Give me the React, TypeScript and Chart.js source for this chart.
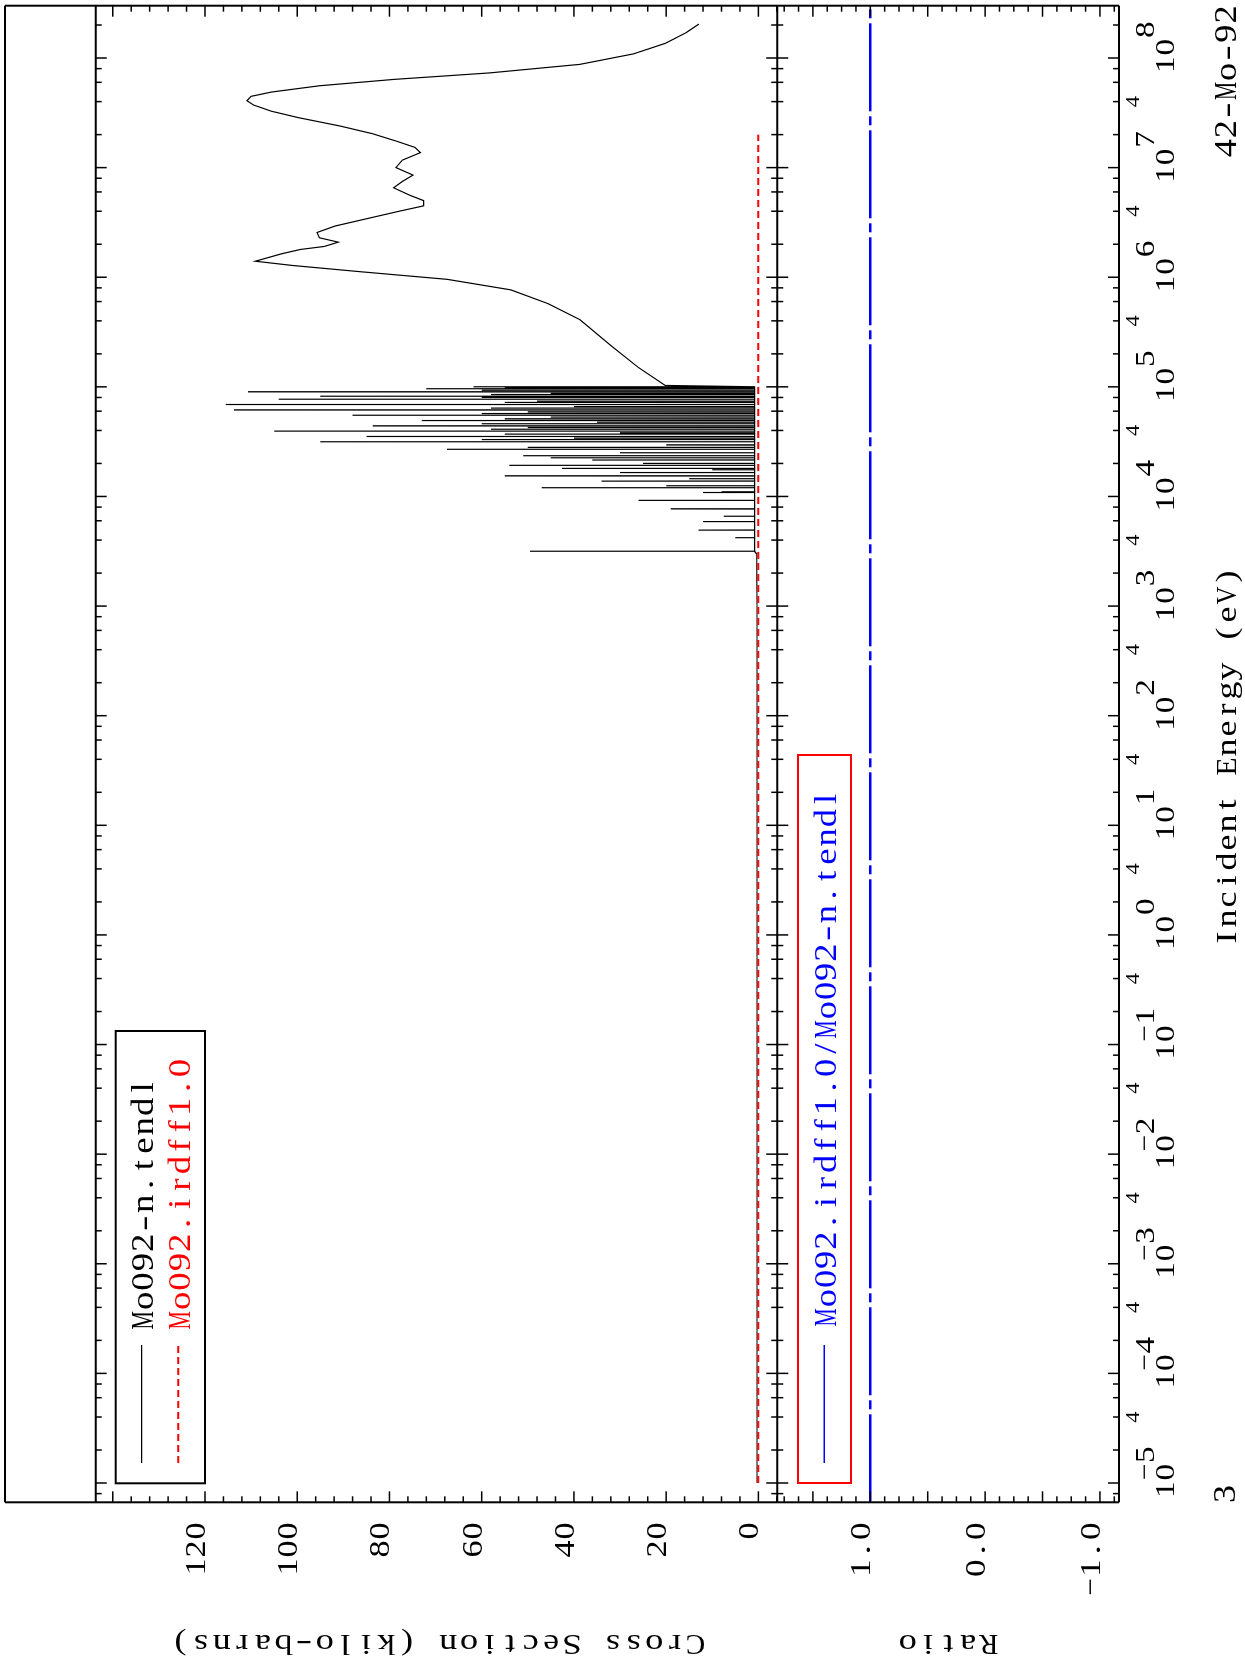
import React, { useEffect, useRef } from "react";
import { Chart, registerables } from "chart.js";

Chart.register(...registerables);

// ---------------- data ----------------
const energyMin = 1e-5 / 1.5;
const energyMax = 3e8;
const xsMin = -4.1;
const xsMax = 143.7;
const ratioMin = -1.166;
const ratioMax = 1.81;

const decadeExponents = [-5, -4, -3, -2, -1, 0, 1, 2, 3, 4, 5, 6, 7, 8];
const xsTickLabels = [0, 20, 40, 60, 80, 100, 120];
const ratioTickLabels = [1, 0, -1];
const ratioTickText = ["1.0", "0.0", "\u22121.0"];

const legendMain = ["Mo092-n.tendl", "Mo092.irdff1.0"];
const legendRatio = ["Mo092.irdff1.0/Mo092-n.tendl"];

// TENDL below the resonance region (kilo-barns)
const tendlLowE = [1e-5, 1e-3, 1e-1, 1e1, 1e3, 3.0e3];
const tendlLowXs = [0.3, 0.3, 0.3, 0.3, 0.3, 0.4];

// resolved resonance spikes: energy (eV) and peak (kilo-barns)
const resonanceE = [
  3.16e3, 4.2e3, 4.93e3, 5.89e3, 6.59e3, 7.7e3, 9.2e3, 1.08e4, 1.1e4, 1.2e4,
  1.25e4, 1.38e4, 1.45e4, 1.54e4, 1.65e4, 1.75e4, 1.8e4, 1.92e4, 2.0e4, 2.15e4,
  2.25e4, 2.35e4, 2.5e4, 2.69e4, 2.8e4, 2.95e4, 3.15e4, 3.3e4, 3.4e4, 3.52e4,
  3.7e4, 3.8e4, 3.94e4, 4.1e4, 4.25e4, 4.4e4, 4.6e4, 4.75e4, 4.92e4, 5.1e4,
  5.3e4, 5.5e4, 5.7e4, 5.9e4, 6.15e4, 6.4e4, 6.6e4, 6.89e4, 7.2e4, 7.4e4,
  7.7e4, 8.0e4, 8.2e4, 8.5e4, 8.7e4, 9.0e4, 9.3e4, 9.6e4, 9.8e4, 1.0e5,
];
const resonancePeak = [
  49.5, 5, 13, 12, 7.5, 19, 26, 12, 8, 47,
  20, 34, 15, 55, 30, 10, 42.6, 54, 25, 36,
  45, 51, 30, 67.5, 50, 20, 95, 60, 40, 85,
  55, 30, 105, 58, 50, 83.6, 60, 35, 73, 55,
  45, 88, 60, 50, 113.7, 58, 40, 115.5, 55, 48,
  104, 60, 95, 58, 45, 110.7, 60, 72, 55, 61.8,
];
const resonanceBaseline = 0.8;

// smooth fast-neutron region
const smoothE = [
  1.03e5, 1.5e5, 2.35e5, 4.1e5, 5.74e5, 7.67e5, 9.57e5, 1.12e6, 1.28e6, 1.4e6,
  1.64e6, 1.79e6, 1.91e6, 2.09e6, 2.29e6, 2.56e6, 2.93e6, 3.43e6, 4.0e6, 4.48e6,
  5.0e6, 5.6e6, 6.55e6, 7.48e6, 8.55e6, 1.0e7, 1.17e7, 1.37e7, 1.53e7, 1.75e7,
  2.04e7, 2.39e7, 2.86e7, 3.27e7, 3.73e7, 4.08e7, 4.47e7, 4.89e7, 5.58e7, 6.38e7,
  7.31e7, 8.75e7, 1.09e8, 1.36e8, 1.71e8, 2.04e8,
];
const smoothXs = [
  20.2, 26.0, 31.8, 38.7, 45.6, 53.7, 67.5, 86.0, 101.0, 109.1,
  103.3, 99.4, 94.1, 91.1, 95.2, 95.7, 91.8, 84.8, 77.9, 72.6,
  72.6, 75.6, 79.1, 77.2, 74.9, 78.6, 77.2, 73.3, 74.5, 78.6,
  83.7, 90.6, 99.8, 105.6, 109.5, 110.9, 110.0, 105.6, 95.2, 79.0,
  58.3, 38.7, 27.1, 20.2, 15.6, 12.9,
];

const irdffE = [1e-5, 2e7];
const irdffXs = [0.05, 0.05];

const ratioE = [energyMin, energyMax];
const ratioValues = [1.0, 1.0];

// ---------------- layout (landscape frame, rotated on page) ----------------
const W = 1669;
const H = 1245;
const L = 166.7;
const R = 1663.3;
const OUTER_T = 5;
const MAIN_T = 95.7;
const SEP = 777.3;
const RATIO_B = 1119;
const SERIF = "'Liberation Serif', 'DejaVu Serif', serif";

function buildTendl() {
  const pts: { x: number; y: number }[] = [];
  tendlLowE.forEach((e, i) => pts.push({ x: e, y: tendlLowXs[i] }));
  const order = resonanceE.map((_, i) => i).sort((a, b) => resonanceE[a] - resonanceE[b]);
  order.forEach((i) => {
    const e = resonanceE[i];
    pts.push({ x: e / 1.003, y: resonanceBaseline });
    pts.push({ x: e, y: resonancePeak[i] });
    pts.push({ x: e * 1.003, y: resonanceBaseline });
  });
  smoothE.forEach((e, i) => pts.push({ x: e, y: smoothXs[i] }));
  return pts;
}

function energyTicks() {
  const out: { v: number; major: boolean }[] = [];
  for (let e = -6; e <= 8; e++) {
    for (const m of [1, 2, 4, 6, 8]) {
      const v = m * Math.pow(10, e);
      if (v >= energyMin && v <= energyMax) out.push({ v, major: m === 1 });
    }
  }
  return out;
}

function seg(ctx: CanvasRenderingContext2D, x1: number, y1: number, x2: number, y2: number) {
  ctx.beginPath();
  ctx.moveTo(x1, y1);
  ctx.lineTo(x2, y2);
  ctx.stroke();
}

// fixed-pitch text drawn with a serif face, like the plotting package's font
function drawMono(
  ctx: CanvasRenderingContext2D,
  text: string,
  x: number,
  y: number,
  align: "left" | "center" | "right",
  size: number,
  pitch: number,
  sx = 1.2
) {
  const total = text.length * pitch;
  const start = align === "left" ? x : align === "center" ? x - total / 2 : x - total;
  ctx.font = `${size}px ${SERIF}`;
  ctx.textAlign = "center";
  ctx.textBaseline = "alphabetic";
  for (let i = 0; i < text.length; i++) {
    const c = text[i];
    if (c === " ") continue;
    const w = ctx.measureText(c).width;
    let s = sx;
    if (c === "-") s = (pitch * 0.8) / Math.max(w, 1);
    else if (w * s > pitch * 0.95) s = (pitch * 0.95) / w;
    ctx.save();
    ctx.translate(start + (i + 0.5) * pitch, y);
    ctx.scale(s, 1);
    ctx.fillText(c, 0, 0);
    ctx.restore();
  }
}

const mainOverlay = {
  id: "mainOverlay",
  afterDraw(chart: any) {
    const ctx: CanvasRenderingContext2D = chart.ctx;
    const xs = chart.scales.x;
    const ys = chart.scales.y;
    ctx.save();
    ctx.strokeStyle = "#000";
    ctx.lineWidth = 2;
    seg(ctx, L, OUTER_T, R, OUTER_T);
    seg(ctx, L, OUTER_T, L, SEP);
    seg(ctx, R, OUTER_T, R, SEP);
    seg(ctx, L, MAIN_T, R, MAIN_T);
    seg(ctx, L, SEP, R, SEP);

    ctx.lineWidth = 1.5;
    energyTicks().forEach(({ v, major }) => {
      const px = xs.getPixelForValue(v);
      const len = major ? 11 : 6;
      seg(ctx, px, MAIN_T, px, MAIN_T + len);
      seg(ctx, px, SEP, px, SEP - len);
    });
    for (let v = -4; v <= 140; v += 4) {
      const py = ys.getPixelForValue(v);
      const len = v % 20 === 0 ? 11 : 6;
      seg(ctx, L, py, L + len, py);
      seg(ctx, R, py, R - len, py);
    }

    // tick labels
    ctx.fillStyle = "#000";
    xsTickLabels.forEach((v) => {
      drawMono(ctx, String(v), 147, ys.getPixelForValue(v), "right", 30, 18, 1.25);
    });

    // axis title
    ctx.save();
    ctx.translate(34, 438);
    ctx.rotate(-Math.PI / 2);
    drawMono(ctx, "Cross Section (kilo-barns)", 0, 0, "center", 30, 20.6, 1.2);
    ctx.restore();

    // legend
    ctx.lineWidth = 2;
    ctx.strokeStyle = "#000";
    ctx.strokeRect(185.7, 115.7, 452.3, 89.3);
    ctx.lineWidth = 1.3;
    seg(ctx, 206, 141.7, 324, 141.7);
    ctx.strokeStyle = "#ff0000";
    ctx.lineWidth = 2;
    ctx.setLineDash([7, 4]);
    seg(ctx, 206, 178.3, 324, 178.3);
    ctx.setLineDash([]);
    ctx.fillStyle = "#000";
    drawMono(ctx, legendMain[0], 339, 153, "left", 32, 19.4, 1.15);
    ctx.fillStyle = "#ff0000";
    drawMono(ctx, legendMain[1], 339, 190, "left", 32, 19.4, 1.15);
    ctx.restore();
  },
};

const ratioOverlay = {
  id: "ratioOverlay",
  afterDraw(chart: any) {
    const ctx: CanvasRenderingContext2D = chart.ctx;
    const xs = chart.scales.x;
    const ys = chart.scales.y;
    ctx.save();
    ctx.strokeStyle = "#000";
    ctx.lineWidth = 2;
    seg(ctx, L, SEP, L, RATIO_B);
    seg(ctx, R, SEP, R, RATIO_B);
    seg(ctx, L, RATIO_B, R, RATIO_B);

    ctx.lineWidth = 1.5;
    energyTicks().forEach(({ v, major }) => {
      const px = xs.getPixelForValue(v);
      const len = major ? 11 : 6;
      seg(ctx, px, SEP, px, SEP + len);
      seg(ctx, px, RATIO_B, px, RATIO_B - len);
    });
    for (let k = -9; k <= 14; k++) {
      const v = k * 0.125;
      const py = ys.getPixelForValue(v);
      const len = k % 4 === 0 ? 11 : 6;
      seg(ctx, L, py, L + len, py);
      seg(ctx, R, py, R - len, py);
    }

    ctx.fillStyle = "#000";
    ratioTickLabels.forEach((v, i) => {
      drawMono(ctx, ratioTickText[i], 147, ys.getPixelForValue(v), "right", 30, 18.5, 1.25);
    });

    // energy labels: 10 with superscript exponent, and "4" at 4x decade
    decadeExponents.forEach((e) => {
      const px = xs.getPixelForValue(Math.pow(10, e));
      drawMono(ctx, "10", px + 2, 1174, "center", 27, 17.5, 1.25);
      if (e < 0) {
        drawMono(ctx, "\u2212", px + 11, 1153, "center", 27, 17.5, 1.1);
        drawMono(ctx, String(-e), px + 19.5, 1154, "left", 27, 17.5, 1.25);
      } else {
        drawMono(ctx, String(e), px + 19.5, 1154, "left", 27, 17.5, 1.25);
      }
      const p4 = 4 * Math.pow(10, e);
      if (p4 <= energyMax) {
        drawMono(ctx, "4", xs.getPixelForValue(p4), 1139, "center", 18, 12, 1.25);
      }
    });

    drawMono(ctx, "Incident Energy (eV)", 912, 1236, "center", 30, 19, 1.2);
    drawMono(ctx, "42-Mo-92", 1664, 1236, "right", 32, 19.1, 1.15);
    drawMono(ctx, "3", 175, 1235, "center", 32, 19, 1.2);

    ctx.save();
    ctx.translate(34, (SEP + RATIO_B) / 2);
    ctx.rotate(-Math.PI / 2);
    drawMono(ctx, "Ratio", 0, 0, "center", 30, 20.2, 1.2);
    ctx.restore();

    // legend
    ctx.strokeStyle = "#ff0000";
    ctx.lineWidth = 2;
    ctx.strokeRect(186, 798, 728, 53);
    ctx.strokeStyle = "#0000ff";
    ctx.lineWidth = 1.5;
    seg(ctx, 206, 824.3, 324, 824.3);
    ctx.fillStyle = "#0000ff";
    drawMono(ctx, legendRatio[0], 342, 836, "left", 32, 19.2, 1.15);
    ctx.restore();
  },
};

export default function App() {
  const mainRef = useRef<HTMLCanvasElement>(null);
  const ratioRef = useRef<HTMLCanvasElement>(null);

  useEffect(() => {
    const c1 = new Chart(mainRef.current as HTMLCanvasElement, {
      type: "line",
      data: {
        datasets: [
          {
            label: legendMain[1],
            data: irdffE.map((e, i) => ({ x: e, y: irdffXs[i] })),
            borderColor: "#ff0000",
            borderWidth: 2,
            borderDash: [7, 4],
            pointRadius: 0,
            fill: false,
          },
          {
            label: legendMain[0],
            data: buildTendl(),
            borderColor: "#000000",
            borderWidth: 1.2,
            pointRadius: 0,
            fill: false,
          },
        ],
      } as any,
      options: {
        animation: false,
        responsive: false,
        maintainAspectRatio: false,
        events: [],
        layout: { padding: { left: L, right: W - R, top: MAIN_T, bottom: H - SEP } },
        elements: { line: { tension: 0 } },
        scales: {
          x: { type: "logarithmic", min: energyMin, max: energyMax, display: false },
          y: { type: "linear", min: xsMin, max: xsMax, display: false },
        },
        plugins: { legend: { display: false }, tooltip: { enabled: false } },
      } as any,
      plugins: [mainOverlay as any],
    });

    const c2 = new Chart(ratioRef.current as HTMLCanvasElement, {
      type: "line",
      data: {
        datasets: [
          {
            label: legendRatio[0],
            data: ratioE.map((e, i) => ({ x: e, y: ratioValues[i] })),
            borderColor: "#0000ff",
            borderWidth: 2.5,
            borderDash: [88, 5, 9, 5],
            pointRadius: 0,
            fill: false,
          },
        ],
      } as any,
      options: {
        animation: false,
        responsive: false,
        maintainAspectRatio: false,
        events: [],
        layout: { padding: { left: L, right: W - R, top: SEP, bottom: H - RATIO_B } },
        elements: { line: { tension: 0 } },
        scales: {
          x: { type: "logarithmic", min: energyMin, max: energyMax, display: false },
          y: { type: "linear", min: ratioMin, max: ratioMax, display: false },
        },
        plugins: { legend: { display: false }, tooltip: { enabled: false } },
      } as any,
      plugins: [ratioOverlay as any],
    });

    return () => {
      c1.destroy();
      c2.destroy();
    };
  }, []);

  return (
    <div
      style={{
        position: "absolute",
        left: 0,
        top: 0,
        width: 1245,
        height: 1669,
        overflow: "hidden",
        background: "#ffffff",
      }}
    >
      <div
        style={{
          position: "absolute",
          left: 0,
          top: 0,
          width: W,
          height: H,
          transformOrigin: "0 0",
          transform: `translate(0px, ${W}px) rotate(-90deg)`,
        }}
      >
        <canvas
          ref={mainRef}
          width={W}
          height={H}
          style={{ position: "absolute", left: 0, top: 0, width: W, height: H }}
        />
        <canvas
          ref={ratioRef}
          width={W}
          height={H}
          style={{ position: "absolute", left: 0, top: 0, width: W, height: H }}
        />
      </div>
    </div>
  );
}
